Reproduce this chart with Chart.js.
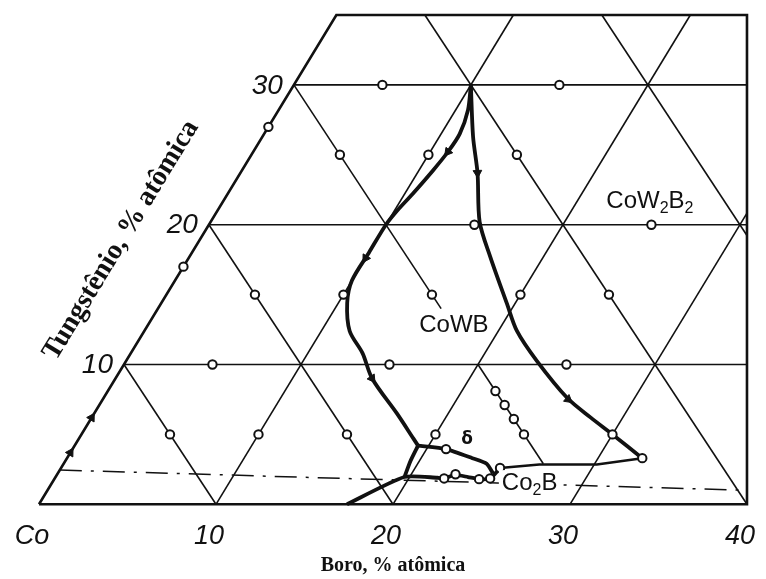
<!DOCTYPE html>
<html>
<head>
<meta charset="utf-8">
<script src="https://cdn.jsdelivr.net/npm/chart.js@4.4.1/dist/chart.umd.min.js"></script>
<style>
  html, body { margin: 0; padding: 0; background: #fff; }
  #wrap { width: 766px; height: 579px; }
</style>
</head>
<body>
<div id="wrap"><canvas id="chart"></canvas></div>
<script>
// Co-W-B liquidus projection, Co corner. Every point is [B %, W %].
const bTicks = [0, 10, 20, 30, 40];
const bTickLabels = ["Co", "10", "20", "30", "40"];
const wTicks = [10, 20, 30];

// grid lines of the triangle
const gridW = [10, 20, 30];
const gridB = [10, 20, 30];
const gridSum = [10, 20, 40, 50];          // lines of constant B + W
const sum30Upper = [[0, 30], [16, 14]];     // B + W = 30 is broken under the CoWB label
const sum30Lower = [[20, 10], [27.1, 2.9]];

// heavy boundary curves
const curveA = [[10, 30], [10.7, 28.2], [11.05, 26.5], [11, 25.2], [10.8, 23.9], [10.45, 22.2],
  [10.15, 21], [10, 20], [10, 18], [10, 16], [10.5, 14.4], [11.6, 12.4], [13.1, 10.8],
  [14.5, 9], [17.1, 6.5], [18.9, 4.7], [19.4, 4.2]];
const curveB = [[10, 30], [11.9, 26.3], [13.4, 23.7], [15.2, 20.2], [17, 17.7], [19.55, 14.35],
  [21.05, 12.4], [23.2, 10.26], [26.2, 7.6], [28.2, 6.2], [30, 5], [32.5, 3.3]];
const branchDown = [[19.4, 4.2], [19.5, 3.1], [19.7, 2.0]];
const branchRight = [[19.4, 4.2], [21.1, 3.95], [22.9, 3.3], [23.9, 2.9], [24.6, 2.2]];
const co2bLeft = [[17.4, 0], [19.7, 1.95], [21.6, 1.9], [22.0, 1.85], [22.5, 2.1], [23.3, 1.95],
  [24.0, 1.8], [24.6, 1.85], [24.8, 2.6]];
const co2bRight = [[24.8, 2.6], [26.9, 2.85], [30.15, 2.85], [32.5, 3.3]];
const dashLine = [[0, 2.45], [39.5, 1.0]];

// alloy compositions (open circles)
const gridPoints = [[5, 30], [15, 30], [15, 20], [25, 20], [5, 10], [15, 10], [25, 10], [0, 27], [0, 17],
  [5, 25], [10, 25], [15, 25], [5, 15], [10, 15], [15, 15], [20, 15], [25, 15],
  [5, 5], [10, 5], [15, 5], [20, 5], [30, 5]];
const tieDots = [[21.9, 8.1], [22.9, 7.1], [23.9, 6.1], [25, 5]];
const co2bDots = [[21.1, 3.95], [22.0, 1.85], [22.5, 2.15], [24.0, 1.8], [24.6, 1.85], [24.8, 2.6], [32.5, 3.3]];

// arrows: [B, W, toward B, toward W]
const arrows = [[0, 6.2, 0, 8], [0, 3.7, 0, 5.5], [11, 25.2, 10.8, 23.9], [10, 17.6, 10, 16],
  [14.5, 9, 17.1, 6.5], [13.4, 23.7, 15.2, 20.2], [26.3, 7.5, 28.2, 6.2]];

const phaseLabels = [
  { text: "CoWB", b: 17.3, w: 12.8 },
  { text: "CoW2B2", b: 24.1, w: 21.7 },
  { text: "Co2B", b: 27.0, w: 1.5, mask: true }
];
const deltaAt = [21.95, 4.66];

const X_MAX = 40, W_MAX = 35;
const SKEW = 0.48;          // how far a W step leans right in B units (scan is slightly squashed)
const INK = "#111";

const toXY = (b, w) => ({ x: b + SKEW * w, y: w });
const pts = arr => arr.map(p => toXY(p[0], p[1]));

function wLine(w) { return [toXY(0, w), { x: X_MAX, y: w }]; }
function bLine(b) {
  const wTop = Math.min(W_MAX, (X_MAX - b) / SKEW);
  return [toXY(b, 0), toXY(b, wTop)];
}
function sumLine(c) {
  const wTop = Math.min(c, W_MAX);
  let bEnd = c, wEnd = 0;
  if (c > X_MAX) { bEnd = (X_MAX - SKEW * c) / (1 - SKEW); wEnd = c - bEnd; }
  return [toXY(c - wTop, wTop), toXY(bEnd, wEnd)];
}

function lineSet(data, width, extra) {
  return Object.assign({
    data, showLine: true, borderColor: INK, borderWidth: width,
    pointRadius: 0, fill: false, clip: false, tension: 0, order: 4
  }, extra || {});
}

const datasets = [];
gridW.forEach(w => datasets.push(lineSet(wLine(w), 1.6)));
gridB.forEach(b => datasets.push(lineSet(bLine(b), 1.6)));
gridSum.forEach(c => datasets.push(lineSet(sumLine(c), 1.6)));
datasets.push(lineSet(pts(sum30Upper), 1.6));
datasets.push(lineSet(pts(sum30Lower), 1.6));
datasets.push(lineSet(pts(dashLine), 1.5, { borderDash: [22, 9, 3, 9] }));

// frame: Co corner, B axis, cut-off right side and top
datasets.push(lineSet([toXY(0, 0), { x: X_MAX, y: 0 }, { x: X_MAX, y: W_MAX }, toXY(0, W_MAX), toXY(0, 0)],
  2.6, { order: 3 }));

[curveA, curveB].forEach(c => datasets.push(lineSet(pts(c), 3.8, { tension: 0.3, order: 2 })));
[branchDown, branchRight, co2bLeft].forEach(c => datasets.push(lineSet(pts(c), 3.8, { tension: 0.2, order: 2 })));
datasets.push(lineSet(pts(co2bRight), 2.6, { order: 2 }));

datasets.push({
  data: pts(gridPoints.concat(tieDots, co2bDots)), showLine: false, clip: false, order: 0,
  pointRadius: 4.2, pointBorderWidth: 2, pointBorderColor: INK, pointBackgroundColor: "#fff"
});

datasets.push({
  data: arrows.map(a => toXY(a[0], a[1])), showLine: false, clip: false, order: 1,
  pointStyle: "triangle", pointRadius: 5, pointBorderWidth: 1,
  pointBorderColor: INK, pointBackgroundColor: INK,
  pointRotation: ctx => {
    const s = ctx.chart.scales;
    const a = arrows[ctx.dataIndex];
    if (!a || !s.x) return 0;
    const p = toXY(a[0], a[1]), q = toXY(a[2], a[3]);
    const dx = s.x.getPixelForValue(q.x) - s.x.getPixelForValue(p.x);
    const dy = s.y.getPixelForValue(q.y) - s.y.getPixelForValue(p.y);
    return Math.atan2(dx, -dy) * 180 / Math.PI;
  }
});

function drawChem(ctx, text, cx, cy, size, mask) {
  const parts = text.match(/[A-Za-z]+|\d+/g);
  const big = size + 'px "Liberation Sans"', small = Math.round(size * 0.65) + 'px "Liberation Sans"';
  let total = 0;
  parts.forEach(p => { ctx.font = /\d/.test(p) ? small : big; total += ctx.measureText(p).width; });
  let x = cx - total / 2;
  if (mask) {
    ctx.fillStyle = "#fff";
    ctx.fillRect(x - 3, cy - size * 0.55, total + 6, size * 1.2);
  }
  ctx.fillStyle = INK;
  ctx.textAlign = "left";
  ctx.textBaseline = "middle";
  parts.forEach(p => {
    const sub = /\d/.test(p);
    ctx.font = sub ? small : big;
    ctx.fillText(p, x, sub ? cy + size * 0.3 : cy);
    x += ctx.measureText(p).width;
  });
}

const textPlugin = {
  id: "ternaryText",
  afterDatasetsDraw(chart) {
    const { ctx, scales } = chart;
    const px = (b, w) => {
      const p = toXY(b, w);
      return [scales.x.getPixelForValue(p.x), scales.y.getPixelForValue(p.y)];
    };
    ctx.save();
    ctx.fillStyle = INK;

    // W tick labels sit beside the left edge
    ctx.font = 'italic 28px "Liberation Sans"';
    ctx.textAlign = "right";
    ctx.textBaseline = "middle";
    wTicks.forEach(w => {
      const [X, Y] = px(0, w);
      ctx.fillText(String(w), X - 11, Y + 1);
    });

    // W axis title runs parallel to the left edge
    const [ax, ay] = px(0, 0), [bx, by] = px(0, W_MAX);
    const ang = Math.atan2(by - ay, bx - ax);
    const [ex, ey] = px(0, 16.4);
    ctx.save();
    ctx.translate(ex + 67 * Math.sin(ang), ey - 67 * Math.cos(ang));
    ctx.rotate(ang);
    ctx.font = 'bold 28px "Liberation Serif"';
    ctx.textAlign = "center";
    ctx.fillText("Tungstênio, % atômica", 0, 0);
    ctx.restore();

    phaseLabels.forEach(l => {
      const [X, Y] = px(l.b, l.w);
      drawChem(ctx, l.text, X, Y, 24, l.mask);
    });

    const [dx, dy] = px(deltaAt[0], deltaAt[1]);
    ctx.fillStyle = INK;
    ctx.font = 'bold 17px "DejaVu Sans"';
    ctx.textAlign = "center";
    ctx.textBaseline = "middle";
    ctx.fillText("δ", dx, dy);
    ctx.restore();
  }
};

new Chart(document.getElementById("chart"), {
  type: "scatter",
  data: { datasets },
  plugins: [textPlugin],
  options: {
    responsive: true,
    maintainAspectRatio: false,
    animation: false,
    layout: { padding: { left: 39, right: 19, top: 15, bottom: 0 } },
    plugins: { legend: { display: false }, tooltip: { enabled: false } },
    scales: {
      x: {
        type: "linear", min: 0, max: X_MAX, position: "bottom",
        grid: { display: false, drawTicks: false },
        border: { display: false },
        afterBuildTicks: scale => { scale.ticks = bTicks.map(v => ({ value: v })); },
        ticks: {
          color: INK, padding: 4, maxRotation: 0, autoSkip: false, labelOffset: -7,
          font: { family: "Liberation Sans", size: 27, style: "italic", lineHeight: 2.1 },
          callback: v => bTickLabels[bTicks.indexOf(v)]
        },
        title: {
          display: true, text: "Boro, % atômica", color: INK,
          font: { family: "Liberation Serif", weight: "bold", size: 20, lineHeight: 1.2 },
          padding: { top: -15, bottom: 1 }
        }
      },
      y: { type: "linear", min: 0, max: W_MAX, display: false }
    }
  }
});
</script>
</body>
</html>
